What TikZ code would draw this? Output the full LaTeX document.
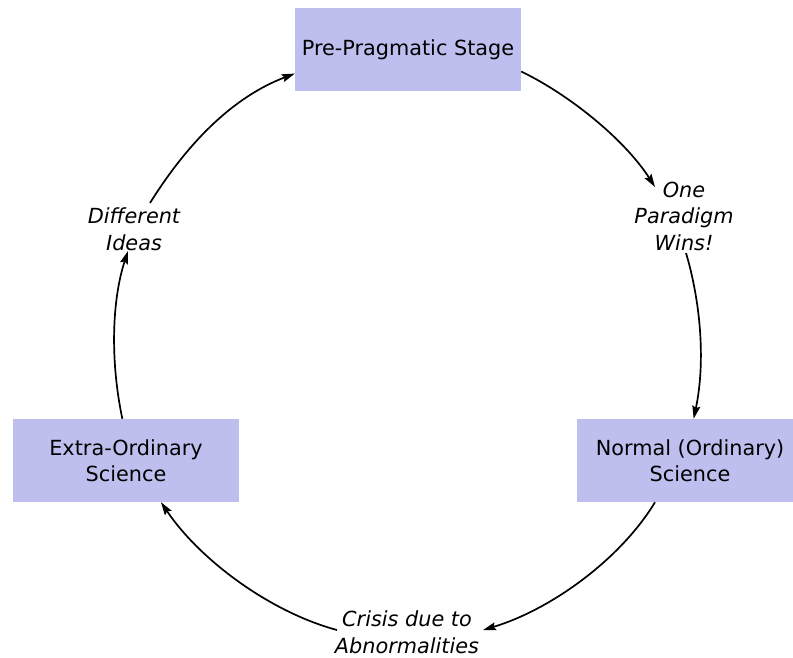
\documentclass[tikz,border=0pt]{standalone}
\usepackage{fontspec}
\setmainfont{DejaVu Sans}
\usetikzlibrary{arrows.meta}
\definecolor{boxfill}{RGB}{191,191,239}
\begin{document}
\begin{tikzpicture}[x=1pt,y=-1pt,
  box/.style={fill=boxfill,minimum width=226pt,minimum height=83pt,inner sep=0pt,align=center,font=\fontsize{20.8}{26.5}\selectfont},
  lbl/.style={inner sep=0pt,align=center,font=\fontsize{20.8}{26.5}\selectfont\itshape},
  conn/.style={line width=1.7pt,-{Stealth[length=13pt,width=8pt,inset=2pt]}}]
\useasboundingbox (0,0) rectangle (793,657);
\node[box] (pre) at (408,49.5) {Pre-Pragmatic Stage};
\node[box] (normal) at (690,460.5) {Normal (Ordinary)\\Science};
\node[box] (extra) at (126,460.5) {Extra-Ordinary\\Science};
\node[lbl] (wins) at (684,216) {One\\Paradigm\\Wins!};
\node[lbl] (ideas) at (134,229) {Different\\Ideas};
\node[lbl] (crisis) at (407,632) {Crisis due to\\Abnormalities};
\coordinate (winsIn) at (655,187);
\coordinate (winsOut) at (686,253);
\coordinate (crisisIn) at (483,630);
\coordinate (crisisOut) at (337,630);
\coordinate (ideasIn) at (128,251);
\coordinate (ideasOut) at (150,203);
\draw[conn] (pre.-11.75) .. controls (570,95) and (625,140) .. (winsIn);
\draw[conn] (winsOut) .. controls (700,300) and (706,360) .. (normal.85.9);
\draw[conn] (normal.-130.1) .. controls (620,560) and (550,610) .. (crisisIn);
\draw[conn] (crisisOut) .. controls (270,612) and (200,560) .. (extra.-50.7);
\draw[conn] (extra.95.5) .. controls (110,360) and (112,300) .. (ideasIn);
\draw[conn] (ideasOut) .. controls (180,155) and (225,100) .. (pre.-168.25);
\end{tikzpicture}
\end{document}
